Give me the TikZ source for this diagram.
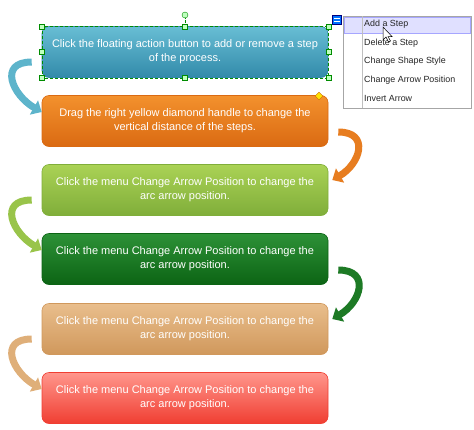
\documentclass[tikz,border=0pt]{standalone}
\usepackage{fontspec}
\setmainfont{Liberation Sans}
\usetikzlibrary{arrows.meta,shapes.geometric}
\definecolor{blueT}{RGB}{104,190,212}
\definecolor{blueB}{RGB}{50,138,170}
\definecolor{orangeT}{RGB}{243,145,45}
\definecolor{orangeB}{RGB}{218,106,18}
\definecolor{limeT}{RGB}{170,210,85}
\definecolor{limeB}{RGB}{128,174,58}
\definecolor{greenT}{RGB}{45,145,55}
\definecolor{greenB}{RGB}{12,100,20}
\definecolor{tanT}{RGB}{233,190,140}
\definecolor{tanB}{RGB}{208,152,92}
\definecolor{redT}{RGB}{255,150,140}
\definecolor{redB}{RGB}{240,62,50}
\tikzset{
  stepbox/.style={rounded corners=7pt, minimum width=286pt, minimum height=51pt,
    inner sep=0pt, text=white, align=center, line width=0.6pt,
    font=\fontsize{11}{14}\selectfont},
  arcarrow/.style={line width=7pt, -{Triangle[length=9pt,width=16pt]}},
  handle/.style={draw=green!55!black, fill=green!25, minimum size=5pt, inner sep=0pt},
  menuitem/.style={anchor=west, inner sep=0pt, text=black!85,
    font=\fontsize{8.9}{10}\selectfont}
}
\begin{document}
\begin{tikzpicture}[x=1pt, y=-1pt]
\useasboundingbox (0,0) rectangle (474,429);
% steps
\node[stepbox, top color=blueT, bottom color=blueB, draw=blueB] (s1) at (185,52)
  {Click the floating action button to add or remove a step\\of the process.};
\node[stepbox, top color=orangeT, bottom color=orangeB, draw=orangeB] (s2) at (185,121)
  {Drag the right yellow diamond handle to change the\\vertical distance of the steps.};
\node[stepbox, top color=limeT, bottom color=limeB, draw=limeB] (s3) at (185,190)
  {Click the menu Change Arrow Position to change the\\arc arrow position.};
\node[stepbox, top color=greenT, bottom color=greenB, draw=greenB] (s4) at (185,259)
  {Click the menu Change Arrow Position to change the\\arc arrow position.};
\node[stepbox, top color=tanT, bottom color=tanB, draw=tanB] (s5) at (185,329)
  {Click the menu Change Arrow Position to change the\\arc arrow position.};
\node[stepbox, top color=redT, bottom color=redB, draw=redB] (s6) at (185,398)
  {Click the menu Change Arrow Position to change the\\arc arrow position.};
% arc arrows
\foreach \from/\to/\c in {s1/s2/blueT!80!blueB, s3/s4/limeT!60!limeB, s5/s6/tanT!60!tanB}
    \draw[arcarrow, \c] ([xshift=-10pt,yshift=-10pt]\from.west)
        to[out=180, in=150, looseness=1.7] ([yshift=9pt]\to.west);
\foreach \from/\to/\c in {s2/s3/orangeT!50!orangeB, s4/s5/greenT!50!greenB}
    \draw[arcarrow, \c] ([xshift=10pt,yshift=-11pt]\from.east)
        to[out=0, in=30, looseness=1.7] ([xshift=4pt,yshift=10pt]\to.east);
% selection handles
\draw[green!55!black, densely dashed, line width=0.4pt] (s1.north west) rectangle (s1.south east);
\node[handle, circle, minimum size=6pt] (rot) at (185,15) {};
\draw[green!55!black, densely dotted] (rot) -- (s1.north);
\foreach \a in {north west, north, north east, west, east, south west, south, south east}
    \node[handle] at (s1.\a) {};
\node[diamond, draw=orange!80!black, fill=yellow!85!orange, minimum size=8pt, inner sep=0pt] (dia) at (319,96) {};
% floating button and menu
\node[fill=blue!55!cyan, draw=blue!50!black, minimum size=9pt, inner sep=0pt] (icon) at (337,20) {};
\draw[white, line width=1pt] ([xshift=-3pt,yshift=1.5pt]icon.center) -- ([xshift=3pt,yshift=1.5pt]icon.center);
\draw[white, line width=1pt] ([xshift=-3pt,yshift=-1.5pt]icon.center) -- ([xshift=3pt,yshift=-1.5pt]icon.center);
\node[draw=gray!70, fill=white, minimum width=128pt, minimum height=92pt, inner sep=0pt, anchor=north west] (menu) at (343,16) {};
\node[fill=blue!12, draw=blue!35, minimum width=126pt, minimum height=16pt, inner sep=0pt, anchor=north west] (hi) at (344,17) {};
\draw[gray!50] ([xshift=19pt]menu.north west) -- ([xshift=19pt]menu.south west);
\foreach \t [count=\i] in {Add a Step, Delete a Step, Change Shape Style, Change Arrow Position, Invert Arrow}
    \node[menuitem] (m\i) at (364, {24+18.7*(\i-1)}) {\t};
% mouse pointer
\draw[fill=white, line width=0.5pt, shift={(383,27)}]
  (0,0) -- (0,13) -- (3,10) -- (5.5,15) -- (7.5,14) -- (5,9.5) -- (9,9.5) -- cycle;
\end{tikzpicture}
\end{document}
